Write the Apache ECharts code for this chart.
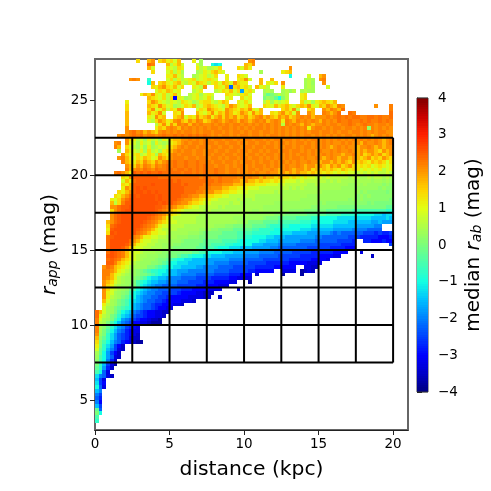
<!DOCTYPE html>
<html>
<head>
<meta charset="utf-8">
<style>
html, body { margin: 0; padding: 0; background: #fff; }
#chart { width: 491px; height: 491px; }
</style>
<script src="https://cdn.jsdelivr.net/npm/echarts@6/dist/echarts.min.js"></script>
</head>
<body>
<div id="chart"></div>
<script>
// median r_ab per bin, one string per r_app row (top row first), one letter per distance bin
// '.' = empty bin, levelChars/levelValues turn a letter into mag
const levelChars = 'abcdefghijklmnopqrstuvwxyzABCD'.split('')
const levelValues = [-4, -3.75, -3.5, -3.25, -3, -2.75, -2.5, -2.25, -2, -1.75, -1.5, -1.25, -1, -0.75, -0.5, -0.25, 0, 0.15, 0.3, 0.4, 0.6, 0.85, 1.15, 1.4, 1.7, 2.05, 2.2, 2.35, 2.5, 2.6]
const binSize = 0.25
const topRowMag = 27.5
const heatRows = [
    '.......... .x..yz.xyw xvy...w.t. .......... .zA',
    '.......... ....BA...y uwyv...vt. .mlm...... yxz',
    '.......... ....yv...w vuxw...wuv tuvx....xv yw........ ..z',
    '.......... .....x...v xuwt...tuw vxywv..... ....t..... wxy',
    '.......... .........w wyvu..tuvw uvx..w..xw v......... ..m....v.. yz',
    '.........z Az..n....v xuwuvwxuvw xwv..w..wx zv..y..y.. ......tut. zA',
    '.......... ....my.xyw vxyvuwvyxw uwxvyxvzxw w...y.wvx. z.....tus. .z',
    '.......... .....xwyzx wyvx..wvuz ..xwvyhxyw xv.yvwu... w.....tut. ..v',
    '.......... ......vxwy xvw...uvw. ..uvxwyvxj wxv..tut.. tusu.tutt.',
    '.......... ..wyxzwvxu wyv..uvwtv wv...xwvuw xv...spqsu tu...wx...',
    '.......... ....yxwvxu xewvtuvwuv xu...vw..x vw...qsrpm ru...wx...',
    '........w. ....xzywvu wvuxwvtuwx xvuwyx..wv xv...uwtvu vw...xuvtw xyxwy',
    '........x. ....yxwzxv wtuvxwyuvx yxwvuxzywv wy...xwvyw xywvxyxzwv yxzyxAz... .....z...A',
    '........x. ....xzvwyu xwzy...vxw zyxwvzyxwy xzwvy..... xywzu..xy. .zyAzyB... .........A',
    '........y. ....ywxzv. .xwz...ywv xzwyxzywxz ywzxy..xwy zxyvz..zy. .AzyzB..BA .........B',
    '........y. ....wvzxy. .xyzvxwzxy zwyzxzyzxy zxyzAyzyxz yzxyzAzAyz zzAzABABAB BAABBABAAB',
    '........y. ....vuxzyw xzAyxzyAzx yzAzyzAzyA zyzAzAyzAz wAzyAzAzAz yAzAzBAABA ABABAABABA',
    '........y. ......uxzw zxAzAyAzAz zAzAzAzAAz AzAzAzAzAz uAzAzyAzyz zAzAAzAABA zABAAzAAzA',
    '........z. ......wyxz AzyAzAzAzA zAAzAAzAzA zAzAAzAzAz AzAzAzAwzA AzAzAAzAAz AzAsAzAzAz',
    '........zA BzAyzyxzAz AzAzAAzAzA AzAAzAzAAz AzAAzAAzAz AzAzAzAzAA zAAzAzAAzA AzAzAzAAzz',
    '......zAzA BABzAAzABA ABABABABAB AzAzAAzAzA AzAAzAzAAz AzAzAzAAzA zAzAzAzAAz AzAzyzAzAz',
    '........zx wuvtwuvtwv xyyzzAzAzA AzAAzAAzAz AAzAAzAzAA zAAzAzAzAA zAzAzAzAzA zAzAzAzyzA',
    '.....zA.zw vtwuvswutu wxyzAzAAzA AAzAAzAAzA zAAzAAzAzA AzAzAAzAzA zAzAzzAzAz zyAzzAzyzA',
    '.....Ay.xv utvswtuvuw xyzAzAAzAA zAAzAAzAAz AAzAAzAAzA zAAzAzAAzA zAzyzAzAzz yzzAzyzyzz',
    '......t.yw vuwtxuvtwx yzAzAAzAAz AAzAAzAAzA AzAAzAzAAz AAzAAzAzAz AzzAzAzzAz yzyzzyxzyz',
    '.......zxv wxuvxwtyxw zAzAAAzAAz AzAAzAAzAA zAAzAzAAzA zAzAzAAzAz zAzAzzyzzA yzxyzyzxyz',
    '......zAyw vxwyxvwzyx zAAAzAAzAA zAAzAzAAzA AzAAzAzAzA zAzAAzAzzA zyzAzyzzyz yxyzxyxzyx',
    '.......Ayx wyxzyxzyzA ABAABAABAA AzAAzAAzAz AAzAzAAzAz AzAzAzzAzz yzzyzyzyxz xyxwyxyxvx',
    '........zy xzyAzyAzAB ABAABAABAB AAzAAzAzAA zAzAAzAzAz zAzzAzyzzy zyxzyzxyzx wxwxvwxwvw',
    '........Ay zAzBAzBAAB BABBABABAB AABAAzAAzA zAAzAzzAzy zAzyzzyzxy xyxyxwyxwx wvwvwvwuvw',
    '.....ABzyw CBCBCBBCBB BBBABBABAB AABAAzAAzA zAzAzzAzzy zyzyzyyxyx xwxwvwvwvv uvuvuvuuvu',
    '.......xwz CCCCCCCBBB BBBBBBBBAB BAABAAAAzA zAzzyzyyxy xxwxwvwvvu vuvuuuuutu uttutuutut',
    '.......vyw BCCCCCCCCC CBCBBBBBBB BBABAAAzzy zyyxyxxwxw wvvvuvuuuu uutututttt ttttsttsts',
    '.......xwy CCCCCDCCCC CCCBCBBBBA BAAAzzzyyy xxxwwwvvvu vuuuuuuttu ttttttttss tstssssrsr',
    '.......wzy CDCDCCCCCC CCCCBBBBAA Azzzyyxxww wvvvuuuuuu uutututttt ttttttssss ssssssrsrr',
    '......xwyz CDDCDCDCCC CCCCBBBAAz zzyyxxwwvv vuuuuuuutu tttttttttt tsssssssss srsrrrrrqr',
    '.....xwyzB DCDDDDCDCC CCCBBAzzyy xxwwvvuuuu uuuttttttt tttttttsss ssssssssss rsrsrrrrrr',
    '....wvxzBC DDDDDDCDCC CCBAzzyyxw wvvuuuuutu ttuttttttt tttttsssss ssssssssrs rsrrrrrrrq',
    '....yuxACC DDDDDDDCDC CBAzzyxxwv vuuuuutuut ttttttttss ssssssssss rsrrrrrrrr rrrqrqqqqq',
    '....zzBCCD DDDDDDCCBA Azyyxwvvuu uuututtttt tttttsssss ssssssssrr rrrrrqqqqq qqqqqqqqpp',
    '....xzBCDD DDDDDDCBAz yxwvuuuuut uttttttttt ttsstsssss ssrrrrqqqq qqpppppppo oooooooonn',
    '....zBCDDD DDDDDCBAzy xwvuuuuutt tttttttttt tsssssssrr rqqqqqqppp ppoooonnnn mmmmmllkll',
    '....zBCDDD DDDDCBAzyw vuuuuuuttt tttttttsss sssssrqqqp ppppoooonn mmmmmlllll llllkkkklk',
    '...yzBCDDD DDDCBAzyxw vvuuuuuttt ttttttttss sqqqqppppo ooooonnnmm mmmmllllkk kkkkjjkjjj',
    '...xBCDDDD DDCBAzywvv uuuutttttt ttsssrrqqq qqpppponnn nnmmmmmmll llllkkkkkk jjjjjii...',
    '...wCDDDDD DCBAzywvuu uuttttttss srrqqqqppp ppoonnnnmm mmmmmlllkk kkkkjjjjji iiihhhh...',
    '...xDCDDDD DBAzywwvvu tttttsssrq qqqqppppoo oonnnnnmmm lllkkkkjjj jjjihihhhh hhgggfgffg',
    '...BCDDDDD Azywwvvuut ttsssrrrqq qqqpppppoo nnmmmmllkk kjjjjjjjji ihhhhhhhgg gfffffeeef',
    '...BDDDDDB zywvvuuttt sssrqqqqqp ppppoooonm mmmmllkkkj jjjjjiiiih hhhhhggggf ..ffeeefee',
    '...BDDDDCA ywvvuuttss srrqqqqqpp poooonnmmm mmkkkjjjji iiiihhhhhh ggggggffff .........g',
    '...BDDDCAy wvvuutttss rqqqqqqppo oonmmmlllk kkjjjjjiih hhhhhhhggg gggffffeee',
    '...BDCBAyw vvutttssrr qqqqqqppoo mmmmlllkkk jjjjiiiihh hhhgggggff ffffeeee.. .d',
    '...CDCBAyw vuttsssrrq qqpoonmmml lkkkkjjjjj iiiihhhhhg gggggfffff eeeedd.... ....c',
    '...BCBAyxw vutsssrqqp onmmllkkkk jjjjjjiiii hhhhhggggg ggffffffee eed',
    '...CCAyxwv utsssrrqpo mmlllkkkkk jjiiiihhhh hgggggffff ffeeeeeddd d',
    '..zBAyxwvu ttssqqponm mllkkkkjji iiihhhhggg gggfffffee eeee..ddcc',
    '..AAzywvut srqponnmml kkjjjiiiii iihhhhgggg gffeeeee.. dddd.bcdc.',
    '..AAywvuts srqqponmll kkjiiiihhh hhggggfffe ee.c...... b....b',
    '..Azywutss rqpomllkkj iiihhhhggg gfffffeedd dd',
    '..zyxvutss qonmlkkjji iihhhggggf ffeeeedd.. .b',
    '..zxwutssr qomlkjiihh hhgggggfff eeeddd',
    '..zxvutsrp omlkjiihhh gggfffeeee dddd....c.',
    '..zwvtsrqo mlkjiihhgg ggfeeeeddc cc',
    '..zwutsqpn mkjiihhggf eeeeeddddc c..c',
    '..yvtsqpom lkjihhggfe eeedddc',
    '..wutsqpom kjihhgffee eddc',
    '..vtsqponm kjihhgfeed d',
    'Byvtsqomlk ihgfeeddcc',
    'Bwutqpnlkj hggfeeddc.',
    'Avtsqomjih gfeedccb',
    'Autqomkihg eeddcbbb',
    'Atrpnljigf ed',
    'Atqomkihfe dd',
    'zsqnljhgfe dc',
    'yrpnljhgfd cc',
    'xqomkihfed cbb',
    'wqnljgec',
    'vpnkigdc',
    'tpmjgec',
    'somjhdc',
    'romifc',
    'qnkgdb',
    'pnjfc',
    'omhd',
    'lihdc',
    'kgd',
    'lge',
    'mhd',
    'ki',
    'ig',
    'hf',
    'ie',
    'kg',
    'ph',
    'qm',
    'o',
    'n'
]
const xTicks = [0, 5, 10, 15, 20]
const yTicks = [5, 10, 15, 20, 25]
const cbarTicks = [-4, -3, -2, -1, 0, 1, 2, 3, 4]
const boxDistances = [2.5, 5, 7.5, 10, 12.5, 15, 17.5, 20]
const boxMags = [7.5, 10, 12.5, 15, 17.5, 20, 22.5]
const jetColors = ['#00007f', '#0000c8', '#0000ff', '#0040ff', '#0080ff', '#00bfff', '#14ffe2', '#48ffaf', '#7bff7b', '#afff48', '#e2ff14', '#ffd200', '#ff9700', '#ff5c00', '#ff2100', '#c70000', '#7f0000']

const heatData = []
heatRows.forEach((row, r) => {
    row.replace(/ /g, '').split('').forEach((ch, c) => {
        const i = levelChars.indexOf(ch)
        if (i >= 0) heatData.push([c * binSize, topRowMag - r * binSize, levelValues[i]])
    })
})

// colour ramp of the colorbar
const cbarStep = 0.0625
const cbarData = []
for (let i = 0; i < 128; i++) cbarData.push([0, -4 + i * cbarStep, -4 + (i + 0.5) * cbarStep])

const renderCell = (params, api) => {
    const a = api.coord([api.value(0), api.value(1) + binSize])
    const b = api.coord([api.value(0) + binSize, api.value(1)])
    const x = Math.round(a[0])
    const y = Math.round(a[1])
    return {
        type: 'rect',
        shape: { x: x, y: y, width: Math.round(b[0]) - x, height: Math.round(b[1]) - y },
        style: { fill: api.visual('color') }
    }
}
const renderCbar = (params, api) => {
    const a = api.coord([0, api.value(1) + cbarStep])
    const b = api.coord([1, api.value(1)])
    const y = Math.round(a[1])
    return {
        type: 'rect',
        shape: { x: a[0], y: y, width: b[0] - a[0], height: Math.round(b[1]) - y },
        style: { fill: api.visual('color') }
    }
}

const boxLine = data => ({
    type: 'line',
    data: data,
    showSymbol: false,
    silent: true,
    z: 5,
    lineStyle: { color: '#000', width: 2 }
})
const cbarEdge = v => ({
    type: 'line',
    xAxisIndex: 1,
    yAxisIndex: 1,
    data: [[0, v], [1, v]],
    showSymbol: false,
    silent: true,
    z: 5,
    lineStyle: { color: '#333', width: 1 }
})
const font = 'DejaVu Sans'
const axisText = { color: '#000', fontSize: 13.5, fontFamily: font }
const nameRich = {
    i: { fontSize: 20, fontStyle: 'italic', fontFamily: font, color: '#000' },
    s: { fontSize: 14, fontStyle: 'italic', fontFamily: font, color: '#000', verticalAlign: 'bottom', lineHeight: 14 },
    n: { fontSize: 20, fontFamily: font, color: '#000' }
}

const chart = echarts.init(document.getElementById('chart'), null, { renderer: 'canvas' })
chart.setOption({
    animation: false,
    textStyle: { fontFamily: font },
    grid: [
        { left: 95, top: 59, width: 313, height: 371, show: true, borderColor: '#666', borderWidth: 2, backgroundColor: '#fff' },
        { left: 417, top: 98, width: 11, height: 294, show: true, borderColor: '#444', borderWidth: 1 }
    ],
    xAxis: [
        {
            type: 'value',
            min: 0,
            max: 21,
            splitLine: { show: false },
            axisLine: { lineStyle: { color: '#222' } },
            axisTick: { length: 5, customValues: xTicks, lineStyle: { color: '#222' } },
            axisLabel: Object.assign({ margin: 7, customValues: xTicks }, axisText),
            name: 'distance (kpc)',
            nameLocation: 'middle',
            nameGap: 30,
            nameTextStyle: { color: '#000', fontSize: 20.3, fontFamily: font }
        },
        { type: 'value', gridIndex: 1, min: 0, max: 1, show: false }
    ],
    yAxis: [
        {
            type: 'value',
            min: 3,
            max: 27.75,
            splitLine: { show: false },
            axisLine: { lineStyle: { color: '#666', width: 2 } },
            axisTick: { length: 5, customValues: yTicks, lineStyle: { color: '#222' } },
            axisLabel: Object.assign({ margin: 7, customValues: yTicks }, axisText),
            name: '{i|r}{s|app}{n| (mag)}',
            nameLocation: 'middle',
            nameRotate: 90,
            nameGap: 35,
            nameTextStyle: { rich: nameRich }
        },
        {
            type: 'value',
            gridIndex: 1,
            position: 'right',
            min: -4,
            max: 4,
            splitLine: { show: false },
            axisLine: { show: true, lineStyle: { color: '#333' } },
            axisTick: { show: true, length: 5, customValues: cbarTicks, lineStyle: { color: '#222' } },
            axisLabel: Object.assign({
                margin: 10,
                customValues: cbarTicks,
                formatter: val => String(val).replace('-', '\u2212')
            }, axisText),
            name: 'median {i|r}{s|ab}{n| (mag)}',
            nameLocation: 'middle',
            nameRotate: 90,
            nameGap: 36,
            nameTextStyle: { color: '#000', fontSize: 20, fontFamily: font, rich: nameRich }
        }
    ],
    visualMap: {
        type: 'continuous',
        show: false,
        seriesIndex: [0, 1],
        dimension: 2,
        min: -4,
        max: 4,
        inRange: { color: jetColors }
    },
    series: [
        {
            type: 'custom',
            coordinateSystem: 'cartesian2d',
            encode: { x: 0, y: 1 },
            renderItem: renderCell,
            data: heatData,
            silent: true
        },
        {
            type: 'custom',
            coordinateSystem: 'cartesian2d',
            xAxisIndex: 1,
            yAxisIndex: 1,
            encode: { x: 0, y: 1 },
            renderItem: renderCbar,
            data: cbarData,
            silent: true
        },
        cbarEdge(-4),
        cbarEdge(4),
        ...boxMags.map(m => boxLine([[0, m], [20, m]])),
        ...boxDistances.map(d => boxLine([[d, boxMags[0]], [d, boxMags[boxMags.length - 1]]]))
    ]
})
</script>
</body>
</html>
